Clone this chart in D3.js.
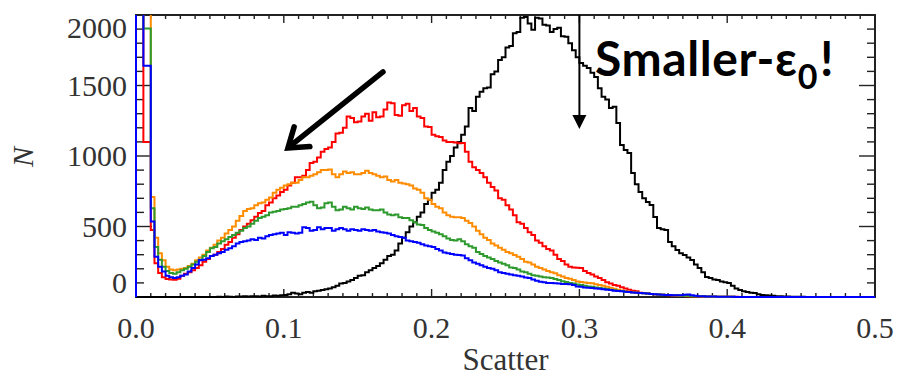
<!DOCTYPE html>
<html>
<head>
<meta charset="utf-8">
<script src="https://cdn.jsdelivr.net/npm/d3@7"></script>
<style>
  html, body { margin: 0; padding: 0; background: #fff; }
  svg { display: block; }
</style>
</head>
<body>
<svg id="chart" width="899" height="377"></svg>
<script>
// Histogram of scatter values, bin width 0.0025 over [0, 0.5]
const binWidth = 0.0025;

const redCounts = [
  2600,2600,1100,1100,475,240,170,140,128,125,
  122,130,150,165,175,190,205,225,250,270,
  290,300,320,340,370,390,420,445,475,500,
  520,545,570,595,610,650,670,700,720,745,
  760,790,810,850,850,860,900,950,960,990,
  1030,1050,1060,1100,1160,1165,1200,1280,1270,1240,
  1245,1280,1300,1250,1310,1275,1280,1330,1380,1375,
  1290,1285,1360,1370,1320,1340,1280,1270,1210,1205,
  1150,1140,1135,1110,1100,1100,1095,1090,1092,1030,
  960,920,900,880,850,810,780,755,700,690,
  650,620,580,530,520,490,460,440,400,385,
  360,340,330,300,270,255,230,215,210,208,
  205,185,170,160,145,135,120,105,95,85,
  80,70,60,52,45,40,30,28,25,22,
  20,18,16,14,12,10,10,8,8,6,
  5,5,4,4,3,3,2,2,2,1,
  1,1,1,0,0,0,0,0,0,0,
  0,0,0,0,0,0,0,0,0,0,
  0,0,0,0,0,0,0,0,0,0,
  0,0,0,0,0,0,0,0,0,0
];

const orangeCounts = [
  2600,2600,2600,2600,710,420,310,260,215,195,
  190,195,200,205,220,235,260,280,300,330,
  350,370,400,420,450,475,500,540,575,610,
  625,630,650,665,670,690,705,740,760,775,
  790,800,810,810,830,850,850,860,870,885,
  900,900,905,870,850,870,890,880,885,870,
  870,880,895,880,870,860,850,855,830,820,
  830,810,805,800,790,770,760,740,700,690,
  660,640,630,600,580,570,565,565,560,540,
  525,500,470,445,420,405,380,365,350,335,
  320,310,298,285,270,250,245,230,215,205,
  195,185,175,168,155,145,135,130,120,110,
  106,103,100,98,90,85,80,72,65,58,
  52,46,42,38,34,30,28,26,24,22,
  20,18,16,15,14,12,10,9,8,7,
  6,5,5,4,4,3,3,2,2,1,
  1,1,0,0,0,0,0,0,0,0,
  0,0,0,0,0,0,0,0,0,0,
  0,0,0,0,0,0,0,0,0,0,
  0,0,0,0,0,0,0,0,0,0
];

const greenCounts = [
  2600,2600,1905,1905,630,355,265,215,185,170,
  165,175,190,200,215,230,250,265,290,320,
  345,355,380,395,410,425,440,455,470,490,
  500,520,540,560,570,580,600,605,610,620,
  625,630,640,640,650,660,670,675,650,630,
  635,665,670,640,615,620,640,630,620,640,
  630,625,635,620,615,615,620,600,585,580,
  585,565,560,560,545,530,515,510,490,475,
  465,455,445,430,415,405,400,410,395,375,
  360,350,320,305,290,280,270,255,245,235,
  225,210,205,195,180,175,165,155,150,145,
  140,138,135,128,120,112,106,100,95,88,
  85,80,75,72,68,64,60,57,52,48,
  45,42,38,35,32,30,28,26,24,22,
  20,18,16,15,14,12,12,10,9,8,
  7,6,5,5,4,3,3,2,2,2,
  1,1,0,0,0,0,0,0,0,0,
  0,0,0,0,0,0,0,0,0,0,
  0,0,0,0,0,0,0,0,0,0,
  0,0,0,0,0,0,0,0,0,0
];

const blueCounts = [
  2600,2600,1640,1640,535,285,215,180,150,140,
  135,140,150,160,180,205,230,260,265,275,
  290,300,310,320,335,345,360,380,390,395,
  400,410,405,420,415,430,440,445,450,455,
  440,460,455,450,455,495,490,470,475,495,
  480,490,490,470,480,490,480,470,480,475,
  470,480,475,470,475,465,460,455,450,440,
  430,425,420,400,395,390,385,375,365,360,
  355,340,330,315,310,305,300,298,295,275,
  260,245,235,225,215,205,200,190,175,170,
  165,160,155,150,145,138,135,125,115,108,
  105,100,100,98,95,92,92,90,85,75,
  72,68,65,64,60,58,55,52,50,45,
  42,40,38,35,32,30,28,26,25,22,
  20,18,16,14,14,12,12,13,16,18,
  12,8,6,5,4,3,3,2,2,1,
  1,1,0,0,0,0,0,0,0,0,
  0,0,0,0,0,0,0,0,0,0,
  0,0,0,0,0,0,0,0,0,0,
  0,0,0,0,0,0,0,0,0,0
];

const blackCounts = [
  0,0,0,0,0,0,0,0,0,0,
  0,0,0,0,0,0,0,0,0,0,
  0,0,2,0,3,2,0,4,3,5,
  4,6,5,3,8,6,5,10,8,12,
  15,20,30,25,20,30,35,30,40,45,
  50,55,60,70,80,95,100,110,120,135,
  150,155,175,190,205,220,240,265,290,300,
  330,380,420,460,500,530,570,600,660,690,
  740,760,810,900,960,1000,1060,1099,1150,1210,
  1340,1320,1420,1455,1480,1485,1580,1600,1680,1700,
  1770,1780,1870,1880,1980,1985,1940,1895,1980,1975,
  1930,1925,1880,1900,1910,1850,1845,1800,1750,1700,
  1660,1640,1625,1590,1560,1480,1420,1400,1340,1350,
  1234,1078,1043,1021,880,800,745,700,674,652,
  567,489,480,475,390,360,333,310,298,280,
  262,230,206,175,142,135,125,121,110,105,
  99,80,60,50,40,35,30,28,20,14,
  12,10,8,6,5,4,3,2,2,1,
  1,0,0,0,0,0,0,0,0,0,
  0,0,0,0,0,0,0,0,0,0
];

const series = [
  { name: "black",  color: "#000000", counts: blackCounts },
  { name: "red",    color: "#ff0000", counts: redCounts },
  { name: "orange", color: "#ff8c00", counts: orangeCounts },
  { name: "green",  color: "#2e9a2e", counts: greenCounts },
  { name: "blue",   color: "#0000ff", counts: blueCounts }
];

const yTickValues = [0, 500, 1000, 1500, 2000];
const xTickValues = [0, 0.1, 0.2, 0.3, 0.4, 0.5];
const xTickLabels = ["0.0", "0.1", "0.2", "0.3", "0.4", "0.5"];

// ---- layout ----
const svg = d3.select("#chart");
const plot = { left: 136, right: 875, top: 15, bottom: 297 };

const x = d3.scaleLinear().domain([0, 0.5]).range([plot.left, plot.right]);
const y = d3.scaleLinear().domain([0, 2000]).range([plot.bottom, plot.top]);

const axisColor = "#222";
const serif = "'Liberation Serif', 'Times New Roman', serif";

svg.append("defs").append("clipPath").attr("id", "plotClip")
  .append("rect")
  .attr("x", plot.left - 2).attr("y", plot.top)
  .attr("width", plot.right - plot.left + 4)
  .attr("height", plot.bottom - plot.top + 2);

// frame
svg.append("rect")
  .attr("x", plot.left).attr("y", plot.top)
  .attr("width", plot.right - plot.left)
  .attr("height", plot.bottom - plot.top)
  .attr("fill", "none").attr("stroke", axisColor).attr("stroke-width", 2);

// tick marks on all four sides, pointing inward
const ticks = svg.append("g").attr("stroke", axisColor).attr("stroke-width", 1.4);
const yMinor = d3.range(0, 2001, 100);
yMinor.forEach(v => {
  const major = v % 500 === 0;
  const len = major ? 16 : 8;
  ticks.append("line").attr("x1", plot.left).attr("x2", plot.left + len)
    .attr("y1", y(v)).attr("y2", y(v));
  ticks.append("line").attr("x1", plot.right).attr("x2", plot.right - len)
    .attr("y1", y(v)).attr("y2", y(v));
});
const xMinor = d3.range(0, 51).map(i => i / 100);
xMinor.forEach((v, i) => {
  const major = i % 10 === 0;
  const len = major ? 8 : 4;
  ticks.append("line").attr("x1", x(v)).attr("x2", x(v))
    .attr("y1", plot.bottom).attr("y2", plot.bottom - len);
  ticks.append("line").attr("x1", x(v)).attr("x2", x(v))
    .attr("y1", plot.top).attr("y2", plot.top + len);
});

// histograms as step lines
const line = d3.line()
  .x(d => x(d[0]))
  .y(d => y(d[1]))
  .curve(d3.curveStepAfter);

const lines = svg.append("g").attr("clip-path", "url(#plotClip)");
series.forEach(s => {
  const pts = [[0, 0]];
  s.counts.forEach((c, i) => pts.push([i * binWidth, c]));
  pts.push([s.counts.length * binWidth, s.counts[s.counts.length - 1]]);
  pts.push([s.counts.length * binWidth, 0]);
  lines.append("path")
    .attr("d", line(pts))
    .attr("fill", "none")
    .attr("stroke", s.color)
    .attr("stroke-width", 2)
    .attr("stroke-linejoin", "miter");
});

// y tick labels (end labels kept inside the frame height)
yTickValues.forEach(v => {
  const cy = Math.min(Math.max(y(v), plot.top + 13), plot.bottom - 14);
  svg.append("text")
    .attr("x", 127).attr("y", cy + 10)
    .attr("text-anchor", "end")
    .attr("font-family", serif).attr("font-size", 30)
    .attr("fill", "#333")
    .text(d3.format("d")(v));
});

// x tick labels
xTickValues.forEach((v, i) => {
  svg.append("text")
    .attr("x", x(v)).attr("y", 338)
    .attr("text-anchor", "middle")
    .attr("font-family", serif).attr("font-size", 30)
    .attr("fill", "#333")
    .text(xTickLabels[i]);
});

// axis titles
svg.append("text")
  .attr("x", (plot.left + plot.right) / 2).attr("y", 370)
  .attr("text-anchor", "middle")
  .attr("font-family", serif).attr("font-size", 31)
  .attr("fill", "#333")
  .text("Scatter");

svg.append("text")
  .attr("transform", "translate(33,157) rotate(-90)")
  .attr("text-anchor", "middle")
  .attr("font-family", serif).attr("font-size", 30)
  .attr("font-style", "italic")
  .attr("fill", "#333")
  .text("N");

// annotations
const ann = svg.append("g");

// thick arrow pointing toward lower scatter
const a0 = [x(0.1671), y(1596)];
const a1 = [x(0.1028), y(1057)];
const ang = Math.atan2(a0[1] - a1[1], a0[0] - a1[0]);
const headLen = 22, headAng = 35 * Math.PI / 180;
const b1 = [a1[0] + headLen * Math.cos(ang + headAng), a1[1] + headLen * Math.sin(ang + headAng)];
const b2 = [a1[0] + headLen * Math.cos(ang - headAng), a1[1] + headLen * Math.sin(ang - headAng)];
ann.append("line")
  .attr("x1", a0[0]).attr("y1", a0[1]).attr("x2", a1[0] + 2 * Math.cos(ang)).attr("y2", a1[1] + 2 * Math.sin(ang))
  .attr("stroke", "#000").attr("stroke-width", 5.5).attr("stroke-linecap", "round");
ann.append("polyline")
  .attr("points", [b1, a1, b2].map(p => p.join(",")).join(" "))
  .attr("fill", "none").attr("stroke", "#000").attr("stroke-width", 5.5)
  .attr("stroke-linecap", "round").attr("stroke-linejoin", "miter");

// thin vertical arrow at scatter 0.3
const vx = x(0.3);
const vTip = y(1191);
ann.append("line")
  .attr("x1", vx).attr("x2", vx)
  .attr("y1", y(2000)).attr("y2", vTip - 10)
  .attr("stroke", "#000").attr("stroke-width", 2);
ann.append("path")
  .attr("d", `M${vx - 7},${vTip - 14} L${vx + 7},${vTip - 14} L${vx},${vTip} Z`)
  .attr("fill", "#000");

// label
const lbl = ann.append("text")
  .attr("x", x(0.3106)).attr("y", y(1567))
  .attr("font-family", "Lato, 'Open Sans', sans-serif")
  .attr("font-weight", 700).attr("font-size", 48)
  .attr("letter-spacing", 0.6)
  .attr("fill", "#000");
lbl.append("tspan").text("Smaller-ε");
lbl.append("tspan").attr("font-size", 34).attr("dy", 13).text("0");
lbl.append("tspan").attr("dy", -13).attr("dx", 2).text("!");
</script>
</body>
</html>
